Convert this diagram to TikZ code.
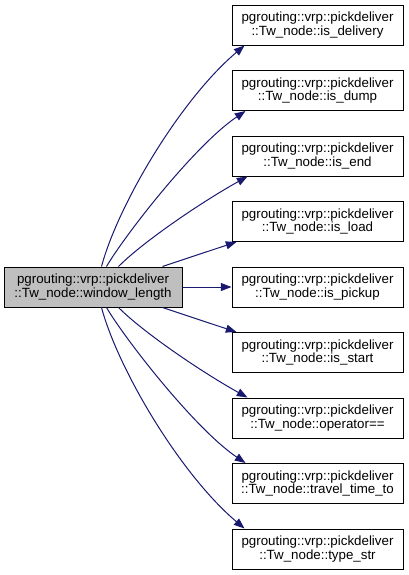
\documentclass[tikz,border=0pt]{standalone}
\usepackage{fontspec}
\setmainfont{Liberation Sans}
\usetikzlibrary{arrows.meta,calc}
\definecolor{edgeblue}{HTML}{191970}
\definecolor{nodegray}{HTML}{BFBFBF}

\begin{document}
\begin{tikzpicture}[x=0.75pt, y=-0.75pt,
  fn/.style={draw=black, line width=0.75pt, fill=white, minimum width=128.25pt, minimum height=30pt, inner sep=0pt, align=center, font=\fontsize{10}{10.2}\selectfont},
  call/.style={edgeblue, line width=0.75pt, -{Triangle[length=8pt,width=6pt]}}]
\useasboundingbox (0,0) rectangle (409,575);

% Caller
\node[fn, fill=nodegray, minimum width=133.5pt] (wl) at (93,287) {pgrouting::vrp::pickdeliver\\::Tw\_node::window\_length};

% Callees
\foreach \y/\name/\label in {25/isdelivery/is\_delivery, 90.5/isdump/is\_dump, 156/isend/is\_end, 221.5/isload/is\_load, 287/ispickup/is\_pickup, 352.5/isstart/is\_start, 418/opeq/operator==, 483.5/traveltime/travel\_time\_to, 549/typestr/type\_str} {
    \node[fn] (\name) at (317.5,\y) {pgrouting::vrp::pickdeliver\\::Tw\_node::\label};
}

% Calls
\draw[call] ($(wl.north west)+(98,0)$) .. controls (118,205) and (180,100) .. ($(isdelivery.south west)+(13,0)$);
\draw[call] ($(wl.north west)+(103,0)$) .. controls (125,235) and (195,145) .. ($(isdump.south west)+(14,0)$);
\draw[call] ($(wl.north west)+(115,0)$) .. controls (145,240) and (205,200) .. ($(isend.south west)+(16,0)$);
\draw[call] ($(wl.north west)+(159,0)$) .. controls (185,259) and (215,249) .. ($(isload.south west)+(5,0)$);
\draw[call] (wl.east) -- (ispickup.west);
\draw[call] ($(wl.south west)+(159,0)$) .. controls (185,315) and (215,325) .. ($(isstart.north west)+(5,0)$);
\draw[call] ($(wl.south west)+(115,0)$) .. controls (145,334) and (205,374) .. ($(opeq.north west)+(16,0)$);
\draw[call] ($(wl.south west)+(103,0)$) .. controls (125,339) and (195,429) .. ($(traveltime.north west)+(14,0)$);
\draw[call] ($(wl.south west)+(98,0)$) .. controls (118,369) and (180,474) .. ($(typestr.north west)+(13,0)$);
\end{tikzpicture}
\end{document}
